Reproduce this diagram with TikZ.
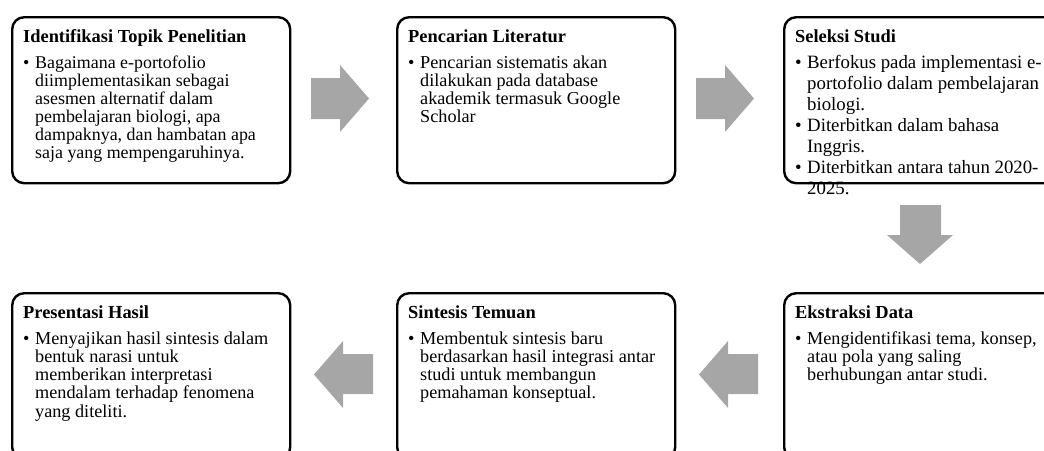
\documentclass[tikz,border=0pt]{standalone}
\usepackage{fontspec}
\setmainfont{Liberation Serif}
\definecolor{arrowgray}{HTML}{A6A6A6}
\newcommand{\bulletmark}{\makebox[12pt][l]{\textbullet}}
\begin{document}
\begin{tikzpicture}[x=1pt,y=-1pt,
  stepbox/.style={draw=black, line width=2.4pt, rounded corners=12pt, minimum width=278pt, minimum height=166pt, anchor=north west, inner sep=0pt},
  ttl/.style={anchor=base west, inner sep=0pt, font=\fontsize{18.4}{19}\selectfont\bfseries},
  txt/.style={anchor=base west, inner sep=0pt, font=\fontsize{18.2}{18.3}\selectfont},
  txtwide/.style={anchor=base west, inner sep=0pt, font=\fontsize{18.8}{21}\selectfont},
  blockarrow/.style={fill=arrowgray}]
\useasboundingbox (0,0) rectangle (1044,450);

% ---- top row
\node[ttl] (t1) at (23,42) {Identifikasi Topik Penelitian};
\node[txt, font=\fontsize{17.9}{18}\selectfont] (x1) at (23,68) {\begin{tabular}[t]{@{}l@{}l@{}}
\bulletmark & Bagaimana e-portofolio\\
 & diimplementasikan sebagai\\
 & asesmen alternatif dalam\\
 & pembelajaran biologi, apa\\
 & dampaknya, dan hambatan apa\\
 & saja yang mempengaruhinya.
\end{tabular}};
\node[stepbox] (b1) at (11,16) {};

\node[ttl] (t2) at (408,42) {Pencarian Literatur};
\node[txt] (x2) at (408,68) {\begin{tabular}[t]{@{}l@{}l@{}}
\bulletmark & Pencarian sistematis akan\\
 & dilakukan pada database\\
 & akademik termasuk Google\\
 & Scholar
\end{tabular}};
\node[stepbox] (b2) at (396,16) {};

\node[ttl] (t3) at (795,42) {Seleksi Studi};
\node[txtwide] (x3) at (795,68) {\begin{tabular}[t]{@{}l@{}l@{}}
\bulletmark & Berfokus pada implementasi e-\\
 & portofolio dalam pembelajaran\\
 & biologi.\\
\bulletmark & Diterbitkan dalam bahasa\\
 & Inggris.\\
\bulletmark & Diterbitkan antara tahun 2020-\\
 & 2025.
\end{tabular}};
\node[stepbox] (b3) at (783,16) {};

% ---- bottom row
\node[ttl] (t4) at (23,318) {Presentasi Hasil};
\node[txt] (x4) at (23,344) {\begin{tabular}[t]{@{}l@{}l@{}}
\bulletmark & Menyajikan hasil sintesis dalam\\
 & bentuk narasi untuk\\
 & memberikan interpretasi\\
 & mendalam terhadap fenomena\\
 & yang diteliti.
\end{tabular}};
\node[stepbox] (b4) at (11,292) {};

\node[ttl] (t5) at (408,318) {Sintesis Temuan};
\node[txt] (x5) at (408,344) {\begin{tabular}[t]{@{}l@{}l@{}}
\bulletmark & Membentuk sintesis baru\\
 & berdasarkan hasil integrasi antar\\
 & studi untuk membangun\\
 & pemahaman konseptual.
\end{tabular}};
\node[stepbox] (b5) at (396,292) {};

\node[ttl] (t6) at (795,318) {Ekstraksi Data};
\node[txt] (x6) at (795,344) {\begin{tabular}[t]{@{}l@{}l@{}}
\bulletmark & Mengidentifikasi tema, konsep,\\
 & atau pola yang saling\\
 & berhubungan antar studi.
\end{tabular}};
\node[stepbox] (b6) at (783,292) {};

% ---- block arrows
\fill[blockarrow] (311,78) -- (340,78) -- (340,65) -- (369,98.5) -- (340,132) -- (340,119) -- (311,119) -- cycle;
\fill[blockarrow] (696,78) -- (725,78) -- (725,65) -- (754,98.5) -- (725,132) -- (725,119) -- (696,119) -- cycle;
\fill[blockarrow] (900,205) -- (941,205) -- (941,235) -- (953,235) -- (920,264) -- (887,235) -- (900,235) -- cycle;
\fill[blockarrow] (758,354) -- (728,354) -- (728,341) -- (699,374.5) -- (728,408) -- (728,394) -- (758,394) -- cycle;
\fill[blockarrow] (373,354) -- (343,354) -- (343,341) -- (314,374.5) -- (343,408) -- (343,394) -- (373,394) -- cycle;
\end{tikzpicture}
\end{document}
